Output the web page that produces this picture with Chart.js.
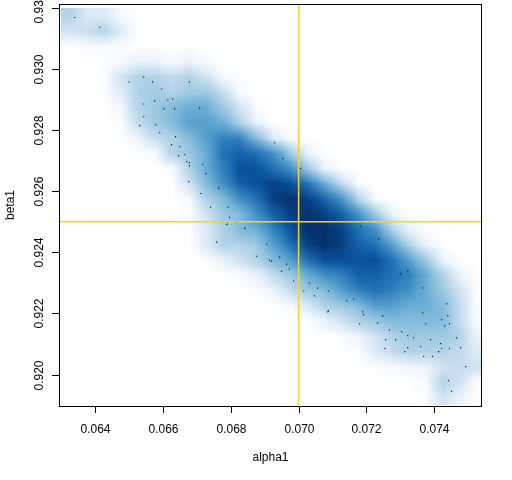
<!DOCTYPE html>
<html>
<head>
<meta charset="utf-8">
<script src="https://cdn.jsdelivr.net/npm/chart.js@4"></script>
<style>
  html, body { margin: 0; padding: 0; background: #fff; }
  #wrap { width: 512px; height: 480px; }
</style>
</head>
<body>
<div id="wrap"><canvas id="c" width="512" height="480"></canvas></div>
<script>
// axes
const xTicks = [0.064, 0.066, 0.068, 0.070, 0.072, 0.074]
const yTicks = [0.920, 0.922, 0.924, 0.926, 0.928, 0.930, 0.932]
const xRange = [0.06293, 0.07541]
const yRange = [0.91897, 0.93212]
const alphaRef = 0.070
const betaRef = 0.925

// smoothed density grid (levels 0..9 on the white->blues ramp), rows top to bottom
const xBins = [0.06325, 0.06375, 0.06425, 0.06475, 0.06525, 0.06575, 0.06625, 0.06675, 0.06725, 0.06775,
  0.06825, 0.06875, 0.06925, 0.06975, 0.07025, 0.07075, 0.07125, 0.07175, 0.07225, 0.07275,
  0.07325, 0.07375, 0.07425, 0.07475, 0.07525]
const yBins = [0.93175, 0.93125, 0.93075, 0.93025, 0.92975, 0.92925, 0.92875, 0.92825, 0.92775, 0.92725,
  0.92675, 0.92625, 0.92575, 0.92525, 0.92475, 0.92425, 0.92375, 0.92325, 0.92275, 0.92225,
  0.92175, 0.92125, 0.92075, 0.92025, 0.91975, 0.91925]
const density = [
  [3.5,2,2,1,0.3,0,0,0,0,0,0,0,0,0,0,0,0,0,0,0,0,0,0,0,0],
  [2.5,2.8,3.5,2,0.3,0,0,0,0,0,0,0,0,0,0,0,0,0,0,0,0,0,0,0,0],
  [0.5,0.8,1,0.8,0.3,0.3,0.3,0.3,0.2,0,0,0,0,0,0,0,0,0,0,0,0,0,0,0,0],
  [0,0,0.3,1,1.5,1.5,1,1.5,1,0.3,0,0,0,0,0,0,0,0,0,0,0,0,0,0,0],
  [0,0,0.5,2.5,3.5,3.5,3,3.5,2.5,1,0.2,0,0,0,0,0,0,0,0,0,0,0,0,0,0],
  [0,0,0.3,2,3.5,4,3.5,4,4,3,1,0,0,0,0,0,0,0,0,0,0,0,0,0,0],
  [0,0,0,1.2,3.5,4,4.5,5,5,4,2.5,0.8,0,0,0,0,0,0,0,0,0,0,0,0,0],
  [0,0,0,0.8,3,4,4.5,5.5,5.5,5,3.5,1.5,0.3,0,0,0,0,0,0,0,0,0,0,0,0],
  [0,0,0,0.3,1.5,3,3.5,4.5,5.5,6.5,6.5,4.5,2,0.5,0,0,0,0,0,0,0,0,0,0,0],
  [0,0,0,0,0.3,1,3.5,4,5,7,7.5,7,6,4,1.5,0.3,0,0,0,0,0,0,0,0,0],
  [0,0,0,0,0,0,1,3.5,5,6.5,8,8,7,6,4,1.5,0.2,0,0,0,0,0,0,0,0],
  [0,0,0,0,0,0,0,2.5,4.5,6,7.5,8,8.5,8,7,5,3,0.8,0,0,0,0,0,0,0],
  [0,0,0,0,0,0,0,1,3.5,4.5,6,7,8.5,9,8.5,7.5,6,3.5,1,0,0,0,0,0,0],
  [0,0,0,0,0,0,0,0.5,2.5,4,4.5,6,7.5,8.5,9,8.5,7.5,6,4,1.5,0.3,0,0,0,0],
  [0,0,0,0,0,0,0,0,2,3.5,4.5,5,6.5,8,9,9,8.5,7,6,3.5,1.5,0.2,0,0,0],
  [0,0,0,0,0,0,0,0,2,3.5,3.5,4,5.5,7,8.5,9,8.5,7.5,7,5.5,3.5,1.5,0.2,0,0],
  [0,0,0,0,0,0,0,0,0.5,1.5,2.5,3.5,4.5,5.5,7,8,8,8,8,7,5.5,4,1.5,0.2,0],
  [0,0,0,0,0,0,0,0,0,0.3,0.8,1.5,3,4,5,6,6.5,7.5,7.5,7,6.5,5,3.5,1.5,0.3],
  [0,0,0,0,0,0,0,0,0,0,0.2,0.5,1.5,3,4,4.5,5.5,6.5,7,6.5,6,5,4,2.5,0.5],
  [0,0,0,0,0,0,0,0,0,0,0,0,0.3,1,2,3.5,4,4.5,5.5,5.5,5,5,4.5,3,0.5],
  [0,0,0,0,0,0,0,0,0,0,0,0,0,0,0.3,1.5,2.5,3.5,4,4.5,4.5,4.5,4.5,3,1],
  [0,0,0,0,0,0,0,0,0,0,0,0,0,0,0,0,0.5,1.5,2.5,3.5,4,4,4,3.5,1.5],
  [0,0,0,0,0,0,0,0,0,0,0,0,0,0,0,0,0,0.5,2,3,3.5,3.5,3.5,3,2],
  [0,0,0,0,0,0,0,0,0,0,0,0,0,0,0,0,0,0,0.5,1,1.2,1.5,2.5,3,2.5],
  [0,0,0,0,0,0,0,0,0,0,0,0,0,0,0,0,0,0,0,0,0.3,1,3.5,2.5,0.5],
  [0,0,0,0,0,0,0,0,0,0,0,0,0,0,0,0,0,0,0,0,0,0.5,2.5,1.5,0.3],
]

// outlying draws shown as dots
const dotsX = [0.06339,0.06413,0.06499,0.06543,0.06569,0.06678,0.06596,0.06543,0.06575,0.06614,
  0.06628,0.06602,0.06634,0.06708,0.06543,0.06531,0.06578,0.06590,0.06637,0.06625,
  0.06649,0.06664,0.06646,0.06670,0.06678,0.06678,0.06717,0.06726,0.06676,0.06764,
  0.06711,0.06929,0.06953,0.07006,0.06740,0.06791,0.06796,0.06791,0.06788,0.06817,
  0.06841,0.06758,0.06906,0.06876,0.06914,0.06920,0.06944,0.06965,0.06973,0.06950,
  0.06985,0.07032,0.07056,0.07015,0.07047,0.07088,0.07142,0.07162,0.07183,0.07236,
  0.07086,0.07088,0.07189,0.07192,0.07248,0.07301,0.07322,0.07366,0.07180,0.07233,
  0.07268,0.07304,0.07322,0.07339,0.07257,0.07286,0.07254,0.07313,0.07322,0.07360,
  0.07369,0.07395,0.07389,0.07366,0.07375,0.07437,0.07440,0.07422,0.07445,0.07431,
  0.07466,0.07419,0.07422,0.07413,0.07445,0.07478,0.07493,0.07442,0.07451]
const dotsY = [0.93168,0.93136,0.92957,0.92973,0.92957,0.92957,0.92934,0.92885,0.92895,0.92898,
  0.92901,0.92869,0.92869,0.92872,0.92843,0.92814,0.92817,0.92791,0.92778,0.92752,
  0.92745,0.92719,0.92716,0.92696,0.92693,0.92683,0.92687,0.92657,0.92631,0.92609,
  0.92592,0.92758,0.92706,0.92674,0.92547,0.92547,0.92514,0.92498,0.92491,0.92498,
  0.92478,0.92433,0.92426,0.92387,0.92374,0.92371,0.92384,0.92361,0.92345,0.92338,
  0.92306,0.92299,0.92283,0.92273,0.92257,0.92273,0.92241,0.92247,0.92485,0.92443,
  0.92205,0.92208,0.92205,0.92195,0.92192,0.92329,0.92338,0.92283,0.92166,0.92169,
  0.92146,0.92140,0.92127,0.92120,0.92114,0.92114,0.92085,0.92075,0.92088,0.92091,
  0.92059,0.92059,0.92114,0.92202,0.92166,0.92231,0.92192,0.92179,0.92166,0.92159,
  0.92120,0.92101,0.92085,0.92075,0.92085,0.92088,0.92026,0.91980,0.91945]

const ramp = ['#FFFFFF','#F7FBFF','#DEEBF7','#C6DBEF','#9ECAE1','#6BAED6','#4292C6','#2171B5','#08519C','#08306B']
const FONT = "12px 'Liberation Sans', Arial, sans-serif"

function hexRgb(h) { return [1, 3, 5].map(i => parseInt(h.slice(i, i + 2), 16)) }
function levelColor(v) {
  v = Math.max(0, Math.min(9, v))
  const i = Math.min(8, Math.floor(v)), t = v - i
  const a = hexRgb(ramp[i]), b = hexRgb(ramp[i + 1])
  return a.map((c, k) => Math.round(c + (b[k] - c) * t))
}

// density image, placed through the chart scales
const densityLayer = {
  id: 'densityLayer',
  beforeDatasetsDraw(chart) {
    const { ctx, chartArea: a, scales: { x, y } } = chart
    const cols = xBins.length, rows = yBins.length
    const off = document.createElement('canvas')
    off.width = cols; off.height = rows
    const octx = off.getContext('2d')
    const img = octx.createImageData(cols, rows)
    for (let r = 0; r < rows; r++) {
      for (let c = 0; c < cols; c++) {
        const rgb = levelColor(density[r][c]), p = (r * cols + c) * 4
        img.data[p] = rgb[0]; img.data[p + 1] = rgb[1]; img.data[p + 2] = rgb[2]; img.data[p + 3] = 255
      }
    }
    octx.putImageData(img, 0, 0)
    const hx = (xBins[1] - xBins[0]) / 2, hy = (yBins[0] - yBins[1]) / 2
    const left = x.getPixelForValue(xBins[0] - hx), right = x.getPixelForValue(xBins[cols - 1] + hx)
    const top = y.getPixelForValue(yBins[0] + hy), bottom = y.getPixelForValue(yBins[rows - 1] - hy)
    ctx.save()
    ctx.beginPath(); ctx.rect(a.left, a.top, a.right - a.left, a.bottom - a.top); ctx.clip()
    ctx.imageSmoothingEnabled = true
    ctx.drawImage(off, left, top, right - left, bottom - top)
    ctx.restore()
  }
}

// R-style box, outward ticks and labels
const rAxes = {
  id: 'rAxes',
  afterDraw(chart) {
    const { ctx, chartArea: a, scales: { x, y } } = chart
    ctx.save()
    ctx.strokeStyle = '#000'; ctx.lineWidth = 1
    ctx.strokeRect(a.left + 0.5, a.top + 0.5, a.right - a.left - 1, a.bottom - a.top)
    ctx.fillStyle = '#000'; ctx.font = FONT
    ctx.textAlign = 'center'; ctx.textBaseline = 'alphabetic'
    xTicks.forEach(v => {
      const px = Math.round(x.getPixelForValue(v)) + 0.5
      ctx.beginPath(); ctx.moveTo(px, a.bottom); ctx.lineTo(px, a.bottom + 7); ctx.stroke()
      ctx.fillText(v.toFixed(3), px, a.bottom + 27)
    })
    yTicks.forEach(v => {
      const py = Math.round(y.getPixelForValue(v)) + 0.5
      ctx.beginPath(); ctx.moveTo(a.left - 7, py); ctx.lineTo(a.left, py); ctx.stroke()
      ctx.save(); ctx.translate(a.left - 16, py); ctx.rotate(-Math.PI / 2)
      ctx.fillText(v.toFixed(3), 0, 0); ctx.restore()
    })
    ctx.fillText('alpha1', (a.left + a.right) / 2, a.bottom + 55)
    ctx.save(); ctx.translate(a.left - 45.5, (a.top + a.bottom) / 2); ctx.rotate(-Math.PI / 2)
    ctx.fillText('beta1', 0, 0); ctx.restore()
    ctx.restore()
  }
}

new Chart(document.getElementById('c'), {
  type: 'scatter',
  data: {
    datasets: [
      { label: 'alpha ref', data: [{ x: alphaRef, y: yRange[0] }, { x: alphaRef, y: yRange[1] }],
        showLine: true, borderColor: '#FFD700', borderWidth: 1.5, pointRadius: 0 },
      { label: 'beta ref', data: [{ x: xRange[0], y: betaRef }, { x: xRange[1], y: betaRef }],
        showLine: true, borderColor: '#FFD700', borderWidth: 1.5, pointRadius: 0 },
      { label: 'draws', data: dotsX.map((v, i) => ({ x: v, y: dotsY[i] })),
        pointStyle: 'rect', pointRadius: 0.8, borderWidth: 0, backgroundColor: '#000' },
    ],
  },
  options: {
    responsive: false, animation: false, devicePixelRatio: 1, events: [],
    layout: { padding: { left: 59, right: 30, top: 2, bottom: 74 } },
    plugins: { legend: { display: false }, tooltip: { enabled: false } },
    scales: {
      x: { type: 'linear', display: false, min: xRange[0], max: xRange[1] },
      y: { type: 'linear', display: false, min: yRange[0], max: yRange[1] },
    },
  },
  plugins: [densityLayer, rAxes],
})
</script>
</body>
</html>
